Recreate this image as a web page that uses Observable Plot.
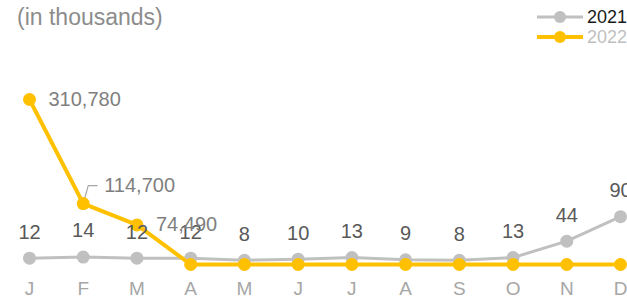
<!DOCTYPE html>
<html>
<head>
<meta charset="utf-8">
<script src="https://cdn.jsdelivr.net/npm/d3@7"></script>
<script src="https://cdn.jsdelivr.net/npm/@observablehq/plot@0.6"></script>
<style>
  html, body { margin: 0; padding: 0; background: #fff; }
  #wrap { position: relative; width: 627px; height: 299px; overflow: hidden; font-family: "Liberation Sans", Arial, sans-serif; }
  #title { position: absolute; left: 17px; top: 4px; font-size: 23px; color: #8c8c8c; white-space: nowrap; }
  .leg { position: absolute; left: 537px; height: 20px; display: flex; align-items: center; font-size: 18px; white-space: nowrap; }
  .leg svg { display: block; margin-right: 4px; }
  #chart { position: absolute; left: 0; top: 0; }
</style>
</head>
<body>
<div id="wrap">
  <div id="chart"></div>
  <div id="title">(in thousands)</div>
</div>
<script>
const months = ["J","F","M","A","M","J","J","A","S","O","N","D"];
const values2021 = [12, 14, 12, 12, 8, 10, 13, 9, 8, 13, 44, 90]; // in thousands
const values2022 = [310780, 114700, 74490, 0, 0, 0, 0, 0, 0, 0, 0, 0];
const seriesNames = ["2021", "2022"];
const seriesColors = ["#c0c0c0", "#ffc000"];
const legendTextColors = ["#1a1a1a", "#bfbfbf"];

const d21 = values2021.map((v, i) => ({i, v: v * 1000, label: String(v)}));
const d22 = values2022.map((v, i) => ({i, v, label: d3.format(",")(v)}));
const leaderIdx = 1;
const labelled22 = d22.filter(d => d.v > 0 && d.i !== leaderIdx);
const leader22 = d22.filter(d => d.i === leaderIdx);

const plot = Plot.plot({
  width: 627,
  height: 299,
  marginTop: 99,
  marginBottom: 35,
  marginLeft: 29,
  marginRight: 7,
  style: {fontFamily: "'Liberation Sans', Arial, sans-serif", fontSize: "20px", background: "transparent"},
  x: {type: "point", domain: d3.range(12), padding: 0, round: false, label: null},
  y: {domain: [0, d3.max(values2022)], axis: null, label: null},
  marks: [
    Plot.axisX({tickSize: 0, tickPadding: 17, tickFormat: i => months[i], fontSize: 19, color: "#a6a6a6", label: null}),
    Plot.line(d21, {x: "i", y: "v", stroke: seriesColors[0], strokeWidth: 3}),
    Plot.dot(d21, {x: "i", y: "v", r: 6.5, fill: seriesColors[0]}),
    Plot.line(d22, {x: "i", y: "v", stroke: seriesColors[1], strokeWidth: 4}),
    Plot.vector(leader22, {
      x: "i", y: "v", length: 1, rotate: 0, anchor: "start", stroke: "#a6a6a6", strokeWidth: 1.2, fill: "none",
      shape: {draw(ctx) { ctx.moveTo(0, 0); ctx.lineTo(5, -18); ctx.lineTo(14, -18); }}
    }),
    Plot.dot(d22, {x: "i", y: "v", r: 6.5, fill: seriesColors[1]}),
    Plot.text(d21, {x: "i", y: "v", text: "label", dy: -26, fill: "#595959", fontSize: 20}),
    Plot.text(labelled22, {x: "i", y: "v", text: "label", textAnchor: "start", dx: 19, fill: "#7f7f7f", fontSize: 20}),
    Plot.text(leader22, {x: "i", y: "v", text: "label", textAnchor: "start", dx: 21, dy: -18, fill: "#7f7f7f", fontSize: 20})
  ]
});
document.getElementById("chart").appendChild(plot);

const wrap = document.getElementById("wrap");
seriesNames.forEach((name, k) => {
  const row = document.createElement("div");
  row.className = "leg";
  row.style.top = (7 + k * 20) + "px";
  const sw = k === 0 ? 3 : 4;
  row.innerHTML = `<svg width="46" height="20"><line x1="0" x2="46" y1="10" y2="10" stroke="${seriesColors[k]}" stroke-width="${sw}"/><circle cx="23" cy="10" r="6" fill="${seriesColors[k]}"/></svg><span style="color:${legendTextColors[k]}">${name}</span>`;
  wrap.appendChild(row);
});
</script>
</body>
</html>
